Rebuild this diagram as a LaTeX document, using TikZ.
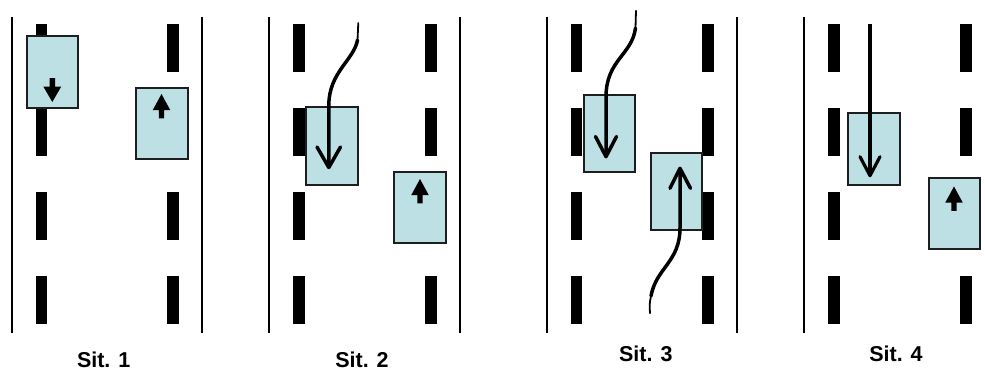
\documentclass[tikz,border=0pt]{standalone}
\usepackage{fontspec}
\setmainfont{Liberation Sans}
\definecolor{carfill}{RGB}{188,224,227}
\definecolor{carline}{RGB}{30,30,30}
\tikzset{
  edgeline/.style={line width=1.7pt, black},
  lanedash/.style={fill=black},
  car/.style={draw=carline, line width=1.7pt, fill=carfill},
  track/.style={line width=3.5pt, line cap=round, line join=round},
  tracktail/.style={line width=1.8pt, line cap=round},
  sitlabel/.style={font=\bfseries\fontsize{21.5}{24}\selectfont, anchor=base, inner sep=0pt},
  % solid block arrows drawn inside the cars; origin = base of the head
  blockdown/.pic={\fill (-2.7,-8.4) -- (2.7,-8.4) -- (2.7,0) -- (9,0) -- (0,15.5) -- (-9,0) -- (-2.7,0) -- cycle;},
  blockup/.pic={\fill (-2.7,8.4) -- (2.7,8.4) -- (2.7,0) -- (8.7,0) -- (0,-16) -- (-8.7,0) -- (-2.7,0) -- cycle;},
}
% one column of lane dashes centred on x
\newcommand\dashcolumn[1]{%
  \foreach \yy in {24,108,192,276}{\fill[lanedash] (#1-5.8,\yy) rectangle (#1+5.8,\yy+47.5);}}
\begin{document}
\begin{tikzpicture}[x=1pt, y=-1pt]
\useasboundingbox (0,0) rectangle (985,370);

% ---------- Sit. 1 ----------
\draw[edgeline] (12.3,16.7) -- (12.3,333.3);
\draw[edgeline] (202.3,16.7) -- (202.3,333.3);
\dashcolumn{41.3}
\dashcolumn{173.2}
\draw[car] (26.7,36) rectangle (78.3,107.7);
\draw[car] (136.3,87.7) rectangle (188.3,159.3);
\pic at (52.3,86.5) {blockdown};
\pic at (161.5,110) {blockup};
\node[sitlabel] (l1) at (103.7,367.3) {Sit. 1};

% ---------- Sit. 2 ----------
\draw[edgeline] (269.3,16.7) -- (269.3,333.3);
\draw[edgeline] (460,16.7) -- (460,333.3);
\dashcolumn{299}
\dashcolumn{431.2}
\draw[car] (306,107.3) rectangle (357.7,185);
\draw[car] (394,171.7) rectangle (446,243.3);
\draw[tracktail] (358.3,23) .. controls (358.6,32) .. (357.5,40);
\draw[track] (357.5,40) .. controls (354,60) and (329,72) .. (328.8,105) -- (328.8,167);
\draw[track] (317,147) -- (328.8,167.5) -- (340.5,147);
\pic at (420,195) {blockup};
\node[sitlabel] (l2) at (362,367.3) {Sit. 2};

% ---------- Sit. 3 ----------
\draw[edgeline] (546.7,16.7) -- (546.7,333.3);
\draw[edgeline] (737.3,16.7) -- (737.3,333.3);
\dashcolumn{576.5}
\dashcolumn{708.2}
\draw[car] (583.7,94.7) rectangle (635.3,172.3);
\draw[car] (651,152.7) rectangle (702,230);
\draw[tracktail] (636,10.7) .. controls (636.5,20) .. (635.5,28);
\draw[track] (635.5,28) .. controls (632,55) and (606,60) .. (606,97) -- (606,156);
\draw[track] (595.5,136.5) -- (606,156.7) -- (616.5,136.5);
\draw[tracktail] (650,313.3) .. controls (649.5,304) .. (651,296);
\draw[track] (651,296) .. controls (656,268) and (680,262) .. (680,228) -- (680,169);
\draw[track] (670,188.3) -- (680,168.3) -- (690.5,188.3);
\node[sitlabel] (l3) at (645.8,361) {Sit. 3};

% ---------- Sit. 4 ----------
\draw[edgeline] (804,16.7) -- (804,333.3);
\dashcolumn{834.2}
\dashcolumn{965.8}
\draw[car] (848.3,113.3) rectangle (900,185);
\draw[car] (929,178.3) rectangle (980.3,249.3);
\draw[track, line width=3.2pt, line cap=butt] (870,24) -- (870,175);
\draw[track, line width=3.2pt] (860,156.7) -- (870,175.7) -- (880,156.7);
\pic at (954,202.5) {blockup};
\node[sitlabel] (l4) at (896,361) {Sit. 4};
\end{tikzpicture}
\end{document}
